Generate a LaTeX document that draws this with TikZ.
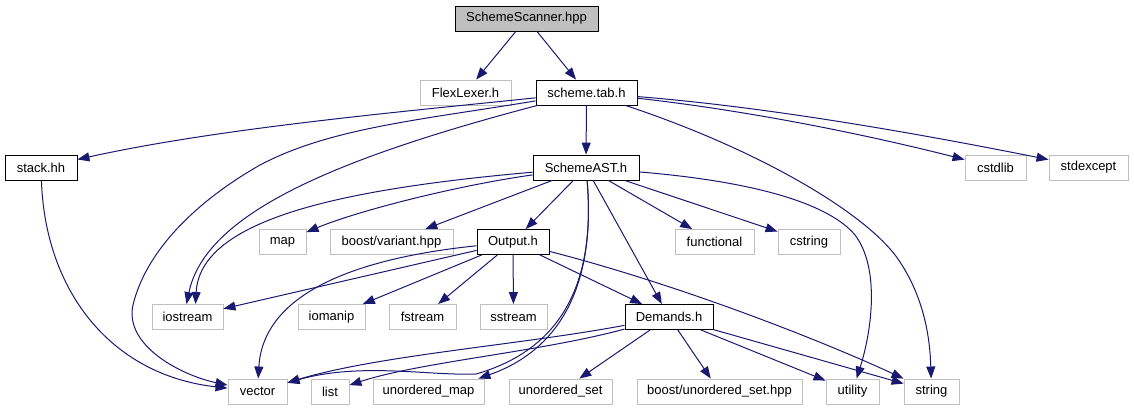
\documentclass[tikz,border=0pt]{standalone}
\usepackage{fontspec}
\setmainfont{Liberation Sans}
\usetikzlibrary{arrows.meta}

\definecolor{edgeblue}{HTML}{191970}
\definecolor{extgray}{HTML}{BFBFBF}

\begin{document}
\begin{tikzpicture}[
    x=1pt, y=-1pt,
    >={Triangle[length=12pt,width=9pt]},
    box/.style={line width=0.9pt, minimum height=25pt, inner sep=0pt,
                font=\fontsize{13}{15}\selectfont},
    hdr/.style={box, draw=black, fill=white},
    ext/.style={box, draw=extgray, fill=white},
    top/.style={box, draw=black, fill=extgray},
    inc/.style={->, edgeblue, line width=1pt},
]
\useasboundingbox (0,0) rectangle (1134,411);

%--- Row 1 and 2 ---
\node[top, minimum width=143pt] (scanner) at (526.5,18.5) {SchemeScanner.hpp};
\node[ext, minimum width=91pt]  (flex)    at (465.5,92.5) {FlexLexer.h};
\node[hdr, minimum width=101pt] (tab)     at (586.5,92.5) {scheme.tab.h};

%--- Row 3 ---
\node[hdr, minimum width=72pt]  (stack)     at (41,167.5)     {stack.hh};
\node[hdr, minimum width=106pt] (ast)       at (586,167.5)    {SchemeAST.h};
\node[ext, minimum width=61pt]  (cstdlib)   at (995.5,167.5)  {cstdlib};
\node[ext, minimum width=79pt]  (stdexcept) at (1088.5,167.5) {stdexcept};

%--- Row 4 ---
\node[ext, minimum width=47pt]  (map)        at (282.5,242) {map};
\node[ext, minimum width=123pt] (variant)    at (391.5,242) {boost/variant.hpp};
\node[hdr, minimum width=72pt]  (output)     at (513,242)   {Output.h};
\node[ext, minimum width=79pt]  (functional) at (714.5,242) {functional};
\node[ext, minimum width=62pt]  (cstring)    at (809,242)   {cstring};

%--- Row 5 ---
\node[ext, minimum width=71pt] (iostream) at (187.5,317) {iostream};
\node[ext, minimum width=67pt] (iomanip)  at (331.5,317) {iomanip};
\node[ext, minimum width=67pt] (fstream)  at (422.5,317) {fstream};
\node[ext, minimum width=67pt] (sstream)  at (513.5,317) {sstream};
\node[hdr, minimum width=88pt] (demands)  at (669,317)   {Demands.h};

%--- Row 6 ---
\node[ext, minimum width=59pt]  (vector)  at (257.5,391.5) {vector};
\node[ext, minimum width=38pt]  (list)    at (330,391.5)   {list};
\node[ext, minimum width=111pt] (umap)    at (428.5,391.5) {unordered\_map};
\node[ext, minimum width=103pt] (uset)    at (560.5,391.5) {unordered\_set};
\node[ext, minimum width=165pt] (buset)   at (719.5,391.5) {boost/unordered\_set.hpp};
\node[ext, minimum width=53pt]  (utility) at (852.5,391.5) {utility};
\node[ext, minimum width=55pt]  (string)  at (931.5,391.5) {string};

%--- SchemeScanner.hpp ---
\draw[inc] (scanner) -- (flex);
\draw[inc] (scanner) -- (tab);

%--- scheme.tab.h ---
\draw[inc] (tab) .. controls (400,112) and (220,128) .. (stack);
\draw[inc] (tab) -- (ast);
\draw[inc] (tab) .. controls (330,160) and (205,215) .. ([xshift=-1pt]iostream.north);
\draw[inc] (tab) .. controls (420,120) and (330,128) .. (260,165)
    .. controls (190,205) and (145,255) .. (133,305)
    .. controls (124,345) and (180,375) .. (vector);
\draw[inc] (tab) .. controls (760,150) and (870,215) .. (900,262)
    .. controls (925,300) and (930,340) .. (string);
\draw[inc] (tab) .. controls (760,112) and (880,138) .. (cstdlib);
\draw[inc] (tab) .. controls (780,108) and (940,138) .. (stdexcept);

%--- stack.hh ---
\draw[inc] (stack) .. controls (45,290) and (110,375) .. (vector);

%--- SchemeAST.h ---
\draw[inc] (ast) .. controls (330,190) and (200,222) .. ([xshift=8pt]iostream.north);
\draw[inc] (ast) .. controls (460,185) and (360,210) .. (map);
\draw[inc] (ast) -- (variant);
\draw[inc] (ast) -- (output);
\draw[inc] (ast) .. controls (596,285) and (560,350) .. ([xshift=-6pt]umap.north east);
\draw[inc] (ast) .. controls (596,285) and (560,350) .. (476,374)
    .. controls (430,376) and (360,362) .. (vector);
\draw[inc] (ast) -- (demands);
\draw[inc] (ast) -- (functional);
\draw[inc] (ast) -- (cstring);
\draw[inc] (ast) .. controls (760,182) and (830,205) .. (855,235)
    .. controls (880,268) and (872,330) .. (utility);

%--- Output.h ---
\draw[inc] (output) -- (iostream);
\draw[inc] (output) -- (iomanip);
\draw[inc] (output) -- (fstream);
\draw[inc] (output) -- (sstream);
\draw[inc] (output) -- (demands);
\draw[inc] (output) .. controls (320,262) and (262,310) .. (vector);
\draw[inc] (output) .. controls (680,285) and (820,340) .. (string);

%--- Demands.h ---
\draw[inc] (demands) .. controls (520,345) and (380,355) .. (vector);
\draw[inc] (demands) .. controls (540,352) and (420,362) .. (list);
\draw[inc] (demands) -- (uset);
\draw[inc] (demands) -- (buset);
\draw[inc] (demands) -- (utility);
\draw[inc] (demands) -- (string);

\end{tikzpicture}
\end{document}
